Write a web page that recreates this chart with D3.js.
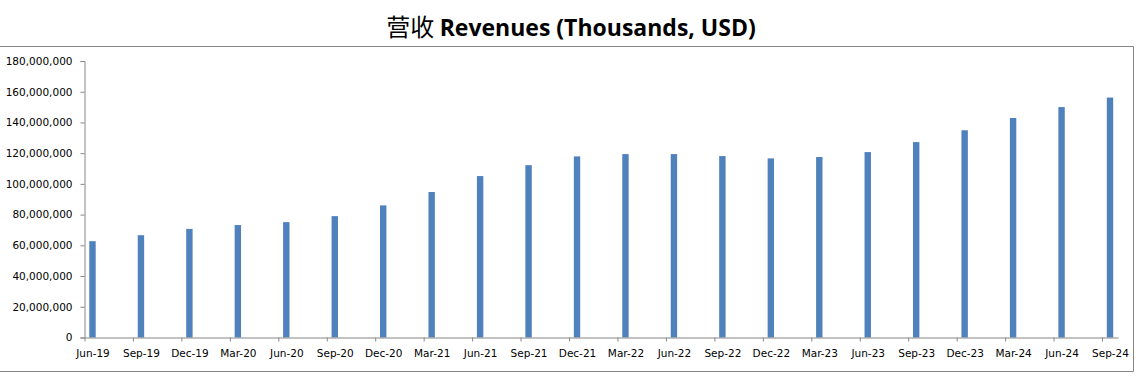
<!DOCTYPE html>
<html>
<head>
<meta charset="utf-8">
<script src="https://cdn.jsdelivr.net/npm/d3@7"></script>
<style>
  body { margin: 0; background: #fff; }
  svg { display: block; }
</style>
</head>
<body>
<div id="chart"></div>
<script>
const svgWidth = 1145;
const svgHeight = 379;
const barColor = "#4f81bd";
const axisColor = "#868686";

// quarter labels
const quarters = ["Jun-19", "Sep-19", "Dec-19", "Mar-20", "Jun-20", "Sep-20", "Dec-20",
  "Mar-21", "Jun-21", "Sep-21", "Dec-21", "Mar-22", "Jun-22", "Sep-22", "Dec-22",
  "Mar-23", "Jun-23", "Sep-23", "Dec-23", "Mar-24", "Jun-24", "Sep-24"];
// revenues, thousands USD
const revenues = [62700000, 66600000, 70700000, 73200000, 75100000, 79000000, 86000000,
  94700000, 105100000, 112200000, 117900000, 119400000, 119400000, 118100000, 116600000,
  117500000, 120700000, 127200000, 134900000, 142900000, 150000000, 156200000];
const yTicks = [0, 20000000, 40000000, 60000000, 80000000, 100000000, 120000000,
  140000000, 160000000, 180000000];
const titleCn = "营收";
const titleEn = "Revenues (Thousands, USD)";

let svg = d3.select("#chart").append("svg")
  .attr("width", svgWidth)
  .attr("height", svgHeight);

// chart frame
svg.append("path")
  .attr("d", "M0,46.5H1133.5V371.5H0")
  .attr("fill", "none")
  .attr("stroke", axisColor)
  .attr("stroke-width", 1);

// title
let title = svg.append("text")
  .attr("x", 571)
  .attr("y", 36)
  .attr("text-anchor", "middle")
  .attr("fill", "#000");
title.append("tspan")
  .style("font-family", "'Noto Sans CJK SC'")
  .style("font-size", "24px")
  .text(titleCn + " ");
title.append("tspan")
  .style("font-family", "'Open Sans', sans-serif")
  .style("font-weight", "bold")
  .style("font-size", "23px")
  .text(titleEn);

let n = quarters.length;
let barOffset = 0.165; // bars sit a little right of each date tick
let x = d3.scaleLinear()
  .domain([0, n - 1 + 2 * barOffset])
  .range([84.5, 1118]);
let y = d3.scaleLinear()
  .domain([0, 180000000])
  .range([337.5, 61]);

let fmt = d3.format(",");

// y axis
let yAxis = svg.append("g")
  .attr("transform", "translate(84.5,0)")
  .call(d3.axisLeft(y).tickValues(yTicks).tickSize(4).tickPadding(8).tickFormat(fmt));
yAxis.selectAll("path, line").attr("stroke", axisColor);
yAxis.selectAll("text")
  .style("font-family", "'DejaVu Sans', Verdana, sans-serif")
  .style("font-size", "10.5px")
  .attr("fill", "#000");

// bars
svg.selectAll("rect.bar")
  .data(revenues)
  .enter()
  .append("rect")
  .attr("class", "bar")
  .attr("x", (d, i) => x(i + barOffset) - 3.2)
  .attr("width", 6.4)
  .attr("y", d => y(d))
  .attr("height", d => y(0) - y(d))
  .attr("fill", barColor);

// x axis
let xAxis = svg.append("g")
  .attr("transform", `translate(0,${y(0)})`)
  .call(d3.axisBottom(x).tickValues(d3.range(n)).tickSize(4).tickSizeOuter(0)
    .tickPadding(8).tickFormat(i => quarters[i]));
xAxis.selectAll("path, line").attr("stroke", axisColor);
xAxis.selectAll("text")
  .attr("dx", x(barOffset) - x(0))
  .style("font-family", "'DejaVu Sans', Verdana, sans-serif")
  .style("font-size", "10.5px")
  .attr("fill", "#000");
</script>
</body>
</html>
